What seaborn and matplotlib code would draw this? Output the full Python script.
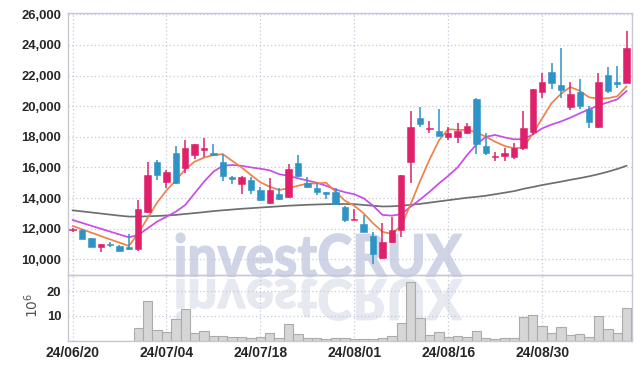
import numpy as np
import pandas as pd
import matplotlib
matplotlib.use("Agg")
import matplotlib.pyplot as plt
import seaborn as sns
from matplotlib.textpath import TextPath
from matplotlib.font_manager import FontProperties
from matplotlib.patches import PathPatch
from matplotlib.transforms import Affine2D, IdentityTransform

# ---------------- data ----------------
tick_pos = [0, 10, 20, 30, 40, 50]
tick_labels = ['24/06/20', '24/07/04', '24/07/18', '24/08/01', '24/08/16', '24/08/30']

opens = [11900, 11920, 11400, 10830, 11030, 10900, 10830, 10700, 13100, 16380,
         15050, 16950, 15970, 16840, 17130, 16930, 16340, 15400, 14900, 15160,
         14550, 13670, 14265, 14050, 16270, 15000, 14680, 14380, 14415, 13435,
         12590, 12305, 11520, 10065, 11110, 11913, 16335, 19208, 18520, 18380,
         17970, 17970, 18230, 20466, 17400, 16680, 16765, 16700, 17250, 18330,
         20900, 22250, 21380, 19966, 20945, 19815, 18620, 22035, 21580, 21530]
highs = [12050, 11950, 11420, 11000, 11140, 10920, 11640, 13900, 16360, 16510,
         15860, 17400, 17780, 17560, 17940, 17540, 16890, 15420, 15420, 15350,
         14750, 15320, 14640, 16200, 16790, 15400, 15000, 14400, 14640, 13450,
         13285, 12890, 11800, 12350, 12780, 15520, 19700, 19966, 19050, 19815,
         18660, 18920, 18920, 20510, 18230, 17030, 17250, 17575, 19685, 21120,
         22150, 22800, 23780, 21600, 21750, 20030, 22150, 22540, 22620, 24910]
lows = [11800, 11355, 10800, 10450, 10790, 10550, 10610, 10570, 13050, 15200,
        14650, 14950, 15640, 16560, 16690, 16780, 15090, 14920, 14280, 14290,
        13780, 13630, 13870, 14000, 15400, 14680, 14200, 13920, 13590, 12450,
        12590, 11780, 9690, 10000, 11045, 11475, 14980, 18660, 18230, 18050,
        17790, 17575, 18200, 16880, 16810, 16420, 16420, 16530, 17140, 18110,
        20510, 21100, 20510, 19750, 19800, 18555, 18600, 20840, 21160, 21500]
closes = [11950, 11355, 10830, 11000, 10920, 10570, 10700, 13300, 15530, 15490,
          15700, 14980, 17300, 17540, 17260, 16800, 15420, 15250, 15400, 14500,
          13870, 14500, 13960, 15877, 15460, 14700, 14400, 14290, 13590, 12570,
          12610, 11780, 10350, 11110, 11913, 15500, 18620, 18836, 18580, 18070,
          18230, 18400, 18700, 17510, 16960, 16720, 16960, 17270, 18575, 21100,
          21580, 21530, 21050, 20795, 20030, 18985, 21560, 21010, 21430, 23820]

ma_short = [12180, 11960, 11740, 11520, 11300, 11090, 10870, 11700, 12700, 13700,
            14500, 15150, 15880, 16375, 16640, 16810, 16870, 16430, 16000, 15505,
            15030, 14740, 14525, 14640, 14806, 14937, 14960, 15000, 14415, 13827,
            13500, 13000, 12350, 11800, 11650, 12200, 13600, 15100, 16500, 17750,
            18500, 18450, 18450, 18300, 18000, 17680, 17400, 17250, 17300, 18200,
            19200, 20200, 20800, 21250, 21000, 20580, 20500, 20520, 20650, 21300]
ma_mid = [12566, 12380, 12190, 12000, 11810, 11620, 11435, 11590, 12025, 12460,
          12780, 13110, 13546, 14310, 15070, 15720, 16110, 16160, 16110, 16000,
          15920, 15810, 15560, 15450, 15290, 15150, 15000, 14800, 14560, 14380,
          14250, 13985, 13500, 12900, 12850, 12950, 13435, 13900, 14400, 14950,
          15450, 16000, 16800, 17500, 18000, 18120, 17960, 17840, 17840, 18150,
          18550, 18800, 19000, 19250, 19530, 19800, 20050, 20250, 20450, 21000]
ma_long = [13200, 13130, 13060, 12990, 12920, 12850, 12790, 12790, 12810, 12830,
           12860, 12900, 12960, 13020, 13080, 13150, 13200, 13250, 13300, 13340,
           13380, 13420, 13460, 13500, 13530, 13560, 13580, 13600, 13610, 13610,
           13600, 13550, 13500, 13450, 13460, 13500, 13560, 13620, 13700, 13780,
           13860, 13940, 14020, 14080, 14150, 14250, 14350, 14450, 14600, 14720,
           14850, 14960, 15070, 15190, 15300, 15420, 15560, 15720, 15900, 16110]

volume = [0, 0, 0, 0, 0, 0, 0, 5.2, 16.1, 4.4,
          3.5, 8.7, 13.0, 3.1, 3.9, 2.1, 2.1, 1.7, 1.7, 1.3,
          1.7, 3.2, 1.3, 6.8, 2.9, 1.3, 1.3, 0.9, 1.3, 1.3,
          0.7, 0.7, 0.7, 1.1, 1.9, 7.1, 23.7, 9.1, 2.3, 3.5,
          1.5, 1.9, 1.5, 3.9, 1.1, 0.7, 1.1, 1.1, 9.5, 10.3,
          5.9, 3.2, 5.5, 2.3, 2.8, 1.5, 9.9, 4.7, 3.2, 13.1]

price_ticks = [10000, 12000, 14000, 16000, 18000, 20000, 22000, 24000, 26000]
vol_ticks = [10, 20]

# ---------------- styling ----------------
UP = '#e0206a'
DOWN = '#2e93c6'
GRID = '#c6c8d8'
TXT = '#262626'

sns.set_theme(style='white')
plt.rcParams['font.family'] = ['Liberation Sans', 'DejaVu Sans']

W, H = 642, 369
fig = plt.figure(figsize=(W / 100, H / 100), dpi=100)
fig.patch.set_facecolor('white')

def fx(px):
    return px / W

def fy(py):
    return 1 - py / H

L, R = 68.3, 632.3
ax = fig.add_axes([fx(L), fy(275), fx(R) - fx(L), fy(12.7) - fy(275)])
ax2 = fig.add_axes([fx(L), fy(340.5), fx(R) - fx(L), fy(275) - fy(340.5)], sharex=ax)
for a in (ax, ax2):
    a.patch.set_alpha(0)

# ---------------- watermark ----------------
tp = TextPath((0, 0), 'investCRUX', size=60,
              prop=FontProperties(family=['Lato', 'DejaVu Sans'], weight='black'))
bb = tp.get_extents()
x0, x1 = 176, 462
t_top, t_bot = 233, 277
tr = (Affine2D().translate(-bb.x0, -bb.y0)
      .scale((x1 - x0) / bb.width, (t_bot - t_top) / bb.height)
      .translate(x0, H - t_bot))
fig.patches.append(PathPatch(tr.transform_path(tp), facecolor='#cfd4e6', edgecolor='#cfd4e6',
                             linewidth=0.8, transform=IdentityTransform(), zorder=-2, figure=fig))
r_top, r_bot = 279, 321
tr2 = (Affine2D().translate(-bb.x0, -bb.y0)
       .scale((x1 - x0) / bb.width, -(r_bot - r_top) / bb.height)
       .translate(x0, H - r_top))
fig.patches.append(PathPatch(tr2.transform_path(tp), facecolor='#e7e9f1', edgecolor='#e7e9f1',
                             linewidth=0.8, transform=IdentityTransform(), zorder=-2, figure=fig))

# ---------------- price panel ----------------
idx = np.arange(len(opens))
o = np.array(opens); c = np.array(closes)
h = np.array(highs); l = np.array(lows)
cols = [UP if cc >= oo else DOWN for oo, cc in zip(o, c)]

sns.lineplot(x=idx, y=ma_long, ax=ax, color='#6e6e6e', lw=1.25, zorder=2)
sns.lineplot(x=idx, y=ma_mid, ax=ax, color='#c94ce6', lw=1.25, zorder=2)
sns.lineplot(x=idx, y=ma_short, ax=ax, color='#ee8248', lw=1.25, zorder=2)

ax.vlines(idx, l, h, colors=cols, lw=1.1, zorder=3)
body_lo = np.minimum(o, c)
body_h = np.maximum(np.abs(c - o), 60)
ax.bar(idx, body_h, bottom=body_lo, width=0.68, color=cols, edgecolor=cols,
       linewidth=0.4, zorder=4)

ax.set_ylim(8975, 26105)
ax.set_xlim(-0.45, 59.6)
ax.set_yticks(price_ticks)
ax.set_yticklabels([f'{v:,}' for v in price_ticks])
ax.set_xticks(tick_pos)
ax.tick_params(axis='x', labelbottom=False, length=0)
ax.tick_params(axis='y', length=0, pad=5, labelsize=9.4, labelcolor=TXT)
ax.grid(True, color=GRID, linestyle=(0, (1, 2)), linewidth=0.9)
ax.set_xlabel(''); ax.set_ylabel('')

# ---------------- volume panel ----------------
sns.barplot(x=idx, y=volume, ax=ax2, native_scale=True, width=1.0,
            color='#d6d6d6', edgecolor='#ababab', linewidth=0.8, zorder=2)
ax2.set_ylim(0.2, 26.4)
ax2.set_xlim(-0.45, 59.6)
ax2.set_yticks(vol_ticks)
ax2.set_yticklabels([str(v) for v in vol_ticks])
ax2.set_xticks(tick_pos)
ax2.set_xticklabels(tick_labels)
ax2.tick_params(axis='x', length=0, pad=4, labelsize=10, labelcolor=TXT)
ax2.tick_params(axis='y', length=0, pad=5, labelsize=9.4, labelcolor=TXT)
ax2.grid(True, color=GRID, linestyle=(0, (1, 2)), linewidth=0.9)
ax2.set_xlabel(''); ax2.set_ylabel('')
for lab in ax2.get_xticklabels():
    lab.set_ha('center')

for a in (ax, ax2):
    for lab in a.get_xticklabels() + a.get_yticklabels():
        lab.set_fontweight('bold')
    for s in a.spines.values():
        s.set_color(GRID)
        s.set_linewidth(1.0)
        s.set_visible(True)

fig.text(fx(32), fy(305), r'$\mathregular{10^6}$', rotation=90, ha='center', va='center',
         fontsize=10, color='#555555', family='DejaVu Sans', weight='normal')

fig.savefig('out.png', dpi=100)
